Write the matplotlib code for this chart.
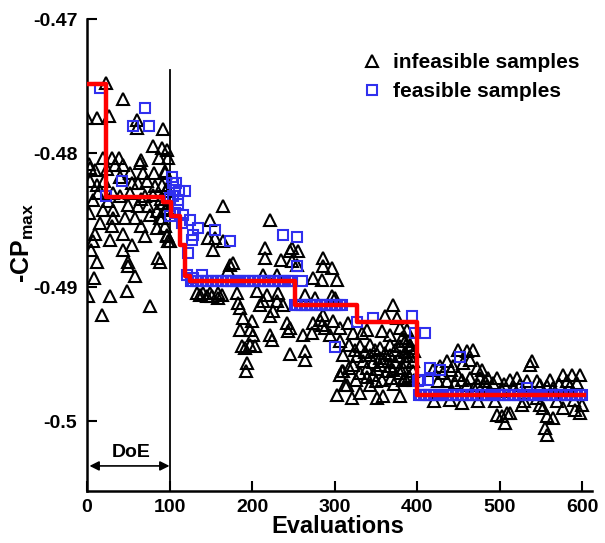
import matplotlib
matplotlib.use('Agg')
import matplotlib.pyplot as plt
import numpy as np

plt.rcParams['font.family'] = ['Liberation Sans', 'DejaVu Sans']
plt.rcParams['font.weight'] = 'bold'
plt.rcParams['axes.unicode_minus'] = False
plt.rcParams['mathtext.fontset'] = 'custom'
plt.rcParams['mathtext.rm'] = 'Liberation Sans:bold'
plt.rcParams['mathtext.bf'] = 'Liberation Sans:bold'

# infeasible samples (evaluation, -CPmax)
infeasible_doe = [
    (23, -0.47478), (44, -0.4760), (0, -0.47739), (12, -0.47739), (27, -0.47724),
    (61, -0.47754), (60, -0.47813), (92, -0.4782), (80, -0.47948), (91, -0.4796),
    (97, -0.4798), (19, -0.48037), (30, -0.48037), (39, -0.48037), (65, -0.4805),
    (87, -0.48037), (98, -0.48037), (4, -0.48112), (10, -0.48127), (34, -0.4809),
    (44, -0.4809), (52, -0.48149), (64, -0.48075), (81, -0.48149), (95, -0.48149),
    (4, -0.48209), (12, -0.48239), (21, -0.48209), (62, -0.48224), (73, -0.48209),
    (82, -0.48246), (91, -0.48239), (13, -0.48299), (32, -0.48299), (52, -0.48299),
    (70, -0.48321), (80, -0.48313), (96, -0.48284), (7, -0.48351), (19, -0.48425),
    (32, -0.48425), (50, -0.48388), (62, -0.48396), (74, -0.48396), (85, -0.48433),
    (97, -0.4841), (32, -0.48485), (46, -0.48485), (58, -0.48485), (76, -0.4846),
    (88, -0.48485), (10, -0.4860), (30, -0.48545), (44, -0.4860), (70, -0.4862),
    (85, -0.4856), (97, -0.48612), (7, -0.48657), (28, -0.4865), (55, -0.48687),
    (98, -0.48657), (44, -0.48724), (12, -0.4881), (50, -0.4881), (86, -0.48784),
    (50, -0.48843), (58, -0.48918), (1, -0.49067), (28, -0.49067), (48, -0.4903),
    (76, -0.49142), (18, -0.49209), (2, -0.4808), (3, -0.4845), (5, -0.4872),
    (9, -0.4893), (95, -0.48134), (97, -0.4826), (92, -0.48373), (95, -0.48425),
    (91, -0.48485), (95, -0.48545), (97, -0.4862), (88, -0.4881),
    (24, -0.4812), (40, -0.4818), (55, -0.4822), (68, -0.4815), (26, -0.4836),
    (40, -0.4832), (66, -0.4834), (90, -0.4834), (16, -0.4852), (66, -0.4854),
]

infeasible_early = [
    (101, -0.48657), (147, -0.48634), (155, -0.48634), (165, -0.48657), (153, -0.48724),
    (149, -0.485), (165, -0.48396), (173, -0.48836), (171, -0.48873), (177, -0.48821),
    (141, -0.49045), (149, -0.49045), (159, -0.49045), (164, -0.4906), (145, -0.49067),
    (152, -0.49067), (159, -0.49082), (133, -0.4904), (137, -0.4906),
    (182, -0.49045), (183, -0.4912), (185, -0.49157), (189, -0.49231), (185, -0.4932),
    (200, -0.49254), (198, -0.4932), (201, -0.49358), (188, -0.4944), (192, -0.49455),
    (198, -0.49433), (204, -0.4944), (194, -0.49567), (193, -0.49627), (222, -0.49358),
    (224, -0.49396), (242, -0.49269), (244, -0.49328), (222, -0.49216), (225, -0.49179),
    (206, -0.4903), (213, -0.49104), (218, -0.4906), (210, -0.49134), (230, -0.49104),
    (238, -0.49134), (232, -0.49045), (216, -0.48709), (216, -0.48784), (222, -0.485),
    (235, -0.48799), (246, -0.48731), (248, -0.48806), (255, -0.48836), (213, -0.4891),
    (230, -0.4891), (246, -0.4950),
]

infeasible_mid = [
    (248, -0.48709), (256, -0.48731), (286, -0.48784), (286, -0.48843), (297, -0.48858),
    (274, -0.48933), (285, -0.48948), (303, -0.48948), (264, -0.4906), (276, -0.49082),
    (297, -0.49067), (301, -0.49082), (246, -0.49306), (262, -0.49358), (274, -0.49269),
    (282, -0.49246), (288, -0.49306), (273, -0.49343), (371, -0.49134), (361, -0.49216),
    (376, -0.49231), (316, -0.49269), (307, -0.49306), (295, -0.49358), (322, -0.49343),
    (333, -0.49343), (339, -0.4932), (358, -0.49328), (379, -0.49306), (388, -0.4932),
    (389, -0.4940), (382, -0.49381), (367, -0.49358), (307, -0.4940), (318, -0.49433),
    (331, -0.4944), (343, -0.49433), (355, -0.49455), (367, -0.49433), (379, -0.4944),
    (392, -0.49433), (396, -0.49478), (310, -0.49507), (327, -0.49515), (343, -0.49507),
    (355, -0.4953), (367, -0.49507), (379, -0.49515), (392, -0.49515), (322, -0.49582),
    (339, -0.49604), (355, -0.49582), (367, -0.4959), (383, -0.49604), (310, -0.49627),
    (331, -0.49642), (347, -0.49657), (364, -0.49627), (379, -0.49642), (395, -0.49627),
    (307, -0.49657), (313, -0.49731), (350, -0.49701), (358, -0.49694), (383, -0.49694),
    (396, -0.49694), (303, -0.49806), (321, -0.49828), (331, -0.49791), (352, -0.49828),
    (359, -0.49813), (379, -0.49813), (309, -0.49627), (315, -0.49731), (264, -0.49478),
    (264, -0.49545), (286, -0.49209), (285, -0.49284), (298, -0.49254), (385, -0.4940),
    (392, -0.49455), (388, -0.49515), (395, -0.49552), (379, -0.49604), (385, -0.49679),
    (325, -0.4947), (337, -0.4948), (349, -0.4947), (361, -0.4949), (373, -0.4947),
    (385, -0.4948), (334, -0.4955), (346, -0.4956), (360, -0.4955), (373, -0.4956),
    (387, -0.4956), (318, -0.4960), (352, -0.4961), (371, -0.4962), (339, -0.4967),
    (326, -0.4969), (368, -0.4968), (390, -0.4966), (343, -0.4973), (372, -0.4972),
]

infeasible_late = [
    (450, -0.4947), (460, -0.49478), (468, -0.4947), (464, -0.49545), (456, -0.49567),
    (473, -0.49604), (479, -0.49619), (436, -0.49552), (444, -0.4959), (428, -0.4959),
    (419, -0.49619), (432, -0.49642), (450, -0.49657), (464, -0.49679), (476, -0.49679),
    (486, -0.49679), (497, -0.49679), (436, -0.49701), (446, -0.49716), (460, -0.49731),
    (474, -0.49731), (485, -0.49739), (492, -0.49716), (503, -0.49776), (513, -0.49694),
    (521, -0.49679), (525, -0.49731), (539, -0.49552), (537, -0.4958), (545, -0.49701),
    (549, -0.49731), (557, -0.49739), (565, -0.49754), (577, -0.49657), (588, -0.49657),
    (597, -0.49657), (582, -0.49701), (594, -0.49716), (585, -0.49739), (474, -0.49851),
    (495, -0.49851), (497, -0.49955), (503, -0.49963), (509, -0.4994), (507, -0.50015),
    (513, -0.4994), (527, -0.4988), (545, -0.49828), (553, -0.49903), (557, -0.49963),
    (565, -0.49978), (577, -0.49903), (591, -0.49918), (597, -0.4994), (555, -0.50052),
    (557, -0.50104), (549, -0.4988), (420, -0.4985), (440, -0.4984), (455, -0.4986),
    (530, -0.4985), (570, -0.4985), (590, -0.4984), (600, -0.4988),
    (425, -0.4970), (441, -0.4962), (455, -0.4969), (469, -0.4975), (482, -0.4970),
    (505, -0.4972), (517, -0.4975), (533, -0.4970), (561, -0.4969), (572, -0.4972),
]

# feasible samples
feasible_scatter = [
    (16, -0.47515), (23, -0.4832), (42, -0.48209), (56, -0.47799), (75, -0.47799),
    (70, -0.47664), (104, -0.48224), (107, -0.48276), (119, -0.48284), (110, -0.48351),
    (101, -0.48336), (101, -0.4847), (116, -0.48463), (125, -0.485), (135, -0.4856),
    (128, -0.48612), (127, -0.48649), (122, -0.48746), (115, -0.48522), (155, -0.48575),
    (173, -0.48657), (121, -0.4891), (139, -0.4891), (129, -0.4893), (103, -0.4818),
    (108, -0.4822), (112, -0.4828), (104, -0.4832), (110, -0.4838), (107, -0.4845),
    (238, -0.48612), (255, -0.48627), (255, -0.48843), (261, -0.48955), (301, -0.49448),
    (327, -0.4926), (347, -0.49231), (394, -0.49216), (398, -0.49343), (410, -0.49343),
    (416, -0.49604), (413, -0.49694), (401, -0.49701), (404, -0.49694), (452, -0.49522),
    (428, -0.49619), (533, -0.49754),
]
band1_x = [126, 129, 132, 135, 138, 141, 144, 147, 150, 153, 156, 159, 162, 165, 168,
           171, 174, 177, 180, 183, 186, 189, 192, 195, 198, 201, 204, 207, 210, 213,
           216, 219, 222, 225, 228, 231, 234, 237, 240, 243, 246, 249]
band1_y = -0.48952
band2_x = [252, 255, 258, 261, 264, 267, 270, 273, 276, 279, 282, 285, 288, 291, 294,
           297, 300, 303, 306, 309]
band2_y = -0.49134
band3_x = [402, 405, 408, 411, 414, 417, 420, 423, 426, 429, 432, 435, 438, 441, 444,
           447, 450, 453, 456, 459, 462, 465, 468, 471, 474, 477, 480, 483, 486, 489,
           492, 495, 498, 501, 504, 507, 510, 513, 516, 519, 522, 525, 528, 531, 534,
           537, 540, 543, 546, 549, 552, 555, 558, 561, 564, 567, 570, 573, 576, 579,
           582, 585, 588, 591, 594, 597, 600]
band3_y = -0.49806

# best feasible so far (step line)
best_x = [0, 23, 92, 102, 113, 119, 125, 252, 327, 400, 602]
best_y = [-0.47485, -0.48328, -0.48366, -0.4847, -0.48687, -0.48918, -0.48955,
          -0.49134, -0.49261, -0.49806, -0.49806]

yticks = [-0.5, -0.49, -0.48, -0.47]
ytick_labels = ['-0.5', '-0.49', '-0.48', '-0.47']
xticks = [0, 100, 200, 300, 400, 500, 600]

fig = plt.figure(figsize=(6.05, 5.43), dpi=100)
ax = fig.add_axes([87 / 605, 52 / 543, 505 / 605, 472 / 543])

inf = np.array(infeasible_doe + infeasible_early + infeasible_mid + infeasible_late)
feas = np.array(feasible_scatter
                + [(x, band1_y) for x in band1_x]
                + [(x, band2_y) for x in band2_x]
                + [(x, band3_y) for x in band3_x])

ax.plot(inf[:, 0], inf[:, 1], ls='none', marker='^', ms=8.2, mfc='none',
        mec='black', mew=1.5, label='infeasible samples', zorder=2)
ax.plot(feas[:, 0], feas[:, 1], ls='none', marker='s', ms=7, mfc='none',
        mec='#3030ee', mew=1.5, label='feasible samples', zorder=3)
ax.step(best_x, best_y, where='post', color='red', lw=3.2, zorder=4)

# DoE marker
ax.axvline(100, ymin=0, ymax=(-0.4738 + 0.5052) / 0.0352, color='black', lw=1.3, zorder=1)
ax.annotate('', xy=(3, -0.50333), xytext=(100, -0.50333),
            arrowprops=dict(arrowstyle='<|-|>', color='black', lw=1.2,
                            mutation_scale=14, shrinkA=0, shrinkB=0))
ax.text(53, -0.50235, 'DoE', ha='center', va='center', fontsize=14, fontweight='bold')

ax.set_xlim(0, 612)
ax.set_ylim(-0.5052, -0.47)
ax.set_xticks(xticks)
ax.set_yticks(yticks)
ax.set_yticklabels(ytick_labels)
ax.tick_params(direction='in', length=7, width=1.5, labelsize=14, pad=6)
ax.tick_params(axis='y', pad=7)
for side in ['top', 'right']:
    ax.spines[side].set_visible(False)
for side in ['left', 'bottom']:
    ax.spines[side].set_linewidth(1.8)

ax.set_xlabel('Evaluations', fontsize=17, fontweight='bold')
ax.set_ylabel('-CP$_{\\mathbf{max}}$', fontsize=18, fontweight='bold')
ax.xaxis.set_label_coords(0.497, -0.05)
ax.yaxis.set_label_coords(-0.10, 0.525)

ax.legend(loc='upper left', bbox_to_anchor=(0.5446, 0.928), frameon=False,
          numpoints=1, handlelength=1.0, handletextpad=0.5, labelspacing=0.5,
          borderpad=0, borderaxespad=0, prop={'size': 15, 'weight': 'bold'})

plt.savefig('out.png', dpi=100)
plt.close()
